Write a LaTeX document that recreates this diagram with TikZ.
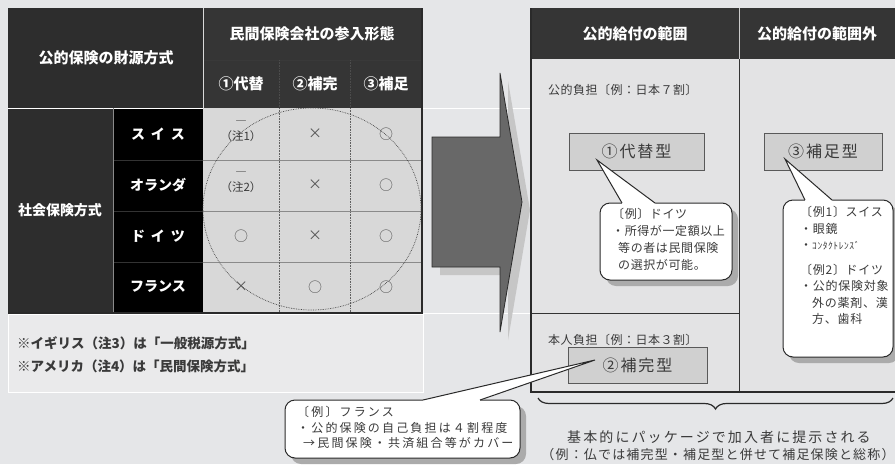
\documentclass[tikz,border=0pt]{standalone}
\usepackage{fontspec}
\newfontfamily\jp{Noto Sans CJK JP}
\usetikzlibrary{decorations.pathreplacing}
\definecolor{bg}{HTML}{E5E6E8}
\definecolor{dark}{HTML}{353535}
\definecolor{darker}{HTML}{2D2D2D}
\definecolor{cname}{HTML}{3B3B3B}
\definecolor{cell}{HTML}{D8D8D8}
\definecolor{gridc}{HTML}{8A8A8A}
\definecolor{boxfill}{HTML}{D0D0D0}
\definecolor{txt}{HTML}{3A3A3A}
\definecolor{markc}{HTML}{555555}
\definecolor{shadowc}{HTML}{ABABAB}
\definecolor{arrowfill}{HTML}{686868}
\definecolor{notefill}{HTML}{EAEAEB}
\definecolor{panel}{HTML}{E3E3E4}
\definecolor{border}{HTML}{2A2A2A}
\newcommand{\fs}[1]{\fontsize{#1}{#1}\selectfont}
\newcommand{\ls}[1]{\addfontfeature{LetterSpace=#1}}
\begin{document}
\begin{tikzpicture}[x=1pt,y=-1pt,
  hdr/.style={text=white, font=\jp\bfseries\fs{15}, inner sep=0pt},
  cname/.style={text=white, font=\jp\bfseries\fs{14}, inner sep=0pt},
  cmark/.style={text=markc, font=\jp\fs{14}, inner sep=0pt},
  cnote/.style={text=txt, font=\jp\fs{11.5}, inner sep=0pt, align=center},
  notetext/.style={text=txt, font=\jp\bfseries\fs{13.5}, inner sep=0pt, anchor=west},
  typebox/.style={draw=gray!70!black, fill=boxfill, line width=0.6pt, text=txt, font=\jp\fs{16}\ls{12}},
  lbl/.style={text=txt, font=\jp\fs{12}\ls{4}, inner sep=0pt, anchor=west},
  calltext/.style={text=txt, inner sep=0pt, align=left, anchor=north west},
  cbox/.style={fill=white, draw=border, line width=1pt, rounded corners=10pt},
  cshadow/.style={fill=shadowc, rounded corners=10pt},
  bracetext/.style={text=txt, inner sep=0pt},
]
\fill[bg] (0,0) rectangle (895,464);
\useasboundingbox (0,0) rectangle (895,464);

% ---------- left table ----------
\fill[darker] (8,8) rectangle (203,108);
\fill[dark] (203,8) rectangle (422,108);
\fill[darker] (8,108) rectangle (113,313);
\fill[cname] (113,108) rectangle (203,313);
\fill[cell] (203,108) rectangle (422,313);
\draw[gray!45!black, line width=0.6pt] (203,60) -- (422,60);
\draw[gray!60!black, densely dotted, line width=0.6pt] (279,60) -- (279,108) (350,60) -- (350,108);
\foreach \yy in {160,211,262}{
  \draw[gridc, line width=0.8pt] (203,\yy) -- (422,\yy);
  \draw[gray!40!black, line width=0.6pt] (113,\yy) -- (203,\yy);
}
\draw[gray!75!black, densely dotted, line width=0.6pt] (279,108) -- (279,313) (350,108) -- (350,313);
\draw[gray!30, line width=0.7pt] (203,8) -- (203,108);
\draw[white, line width=0.8pt] (8,108) -- (203,108);
\draw[white, line width=0.6pt] (422,108) -- (531,108);
\draw[white, line width=0.6pt] (423,313) -- (531,313);
\draw[gridc, line width=0.6pt] (113,108) -- (113,313);
\draw[border, line width=1.2pt] (422,8) -- (422,313) -- (8,313);
\draw[gray!55!black, densely dotted, line width=0.7pt] (312,209) ellipse [x radius=109, y radius=101];

\node[hdr] (h1) at (106,58) {公的保険の財源方式};
\node[hdr] (h2) at (312,34) {民間保険会社の参入形態};
\node[hdr] (c1) at (241,84) {①代替};
\node[hdr] (c2) at (315,84) {②補完};
\node[hdr] (c3) at (386,84) {③補足};
\node[cname] (sys) at (60,210) {社会保険方式};
\node[cname] (ch) at (158,134) {ス\hspace{6pt}イ\hspace{6pt}ス};
\node[cname] (nl) at (158,185) {オランダ};
\node[cname] (de) at (158,236) {ド\hspace{6pt}イ\hspace{6pt}ツ};
\node[cname] (fr) at (158,287) {フランス};

\node[cnote] (ch1) at (241,131) {―\\[4pt]（注1）};
\node[cmark] (ch2) at (315,134) {×};
\node[cmark] (ch3) at (386,134) {○};
\node[cnote] (nl1) at (241,182) {―\\[4pt]（注2）};
\node[cmark] (nl2) at (315,185) {×};
\node[cmark] (nl3) at (386,185) {○};
\node[cmark] (de1) at (241,236) {○};
\node[cmark] (de2) at (315,236) {×};
\node[cmark] (de3) at (386,236) {○};
\node[cmark] (fr1) at (241,287) {×};
\node[cmark] (fr2) at (315,287) {○};
\node[cmark] (fr3) at (386,287) {○};

\draw[white, fill=notefill, line width=0.6pt] (8,314) rectangle (423,392);
\node[notetext] (n1) at (17,343) {※イギリス（注3）は「一般税源方式」};
\node[notetext] (n2) at (17,366) {※アメリカ（注4）は「民間保険方式」};

% ---------- arrow ----------
\fill[gray!45] (440,145) -- (508,145) -- (508,81) -- (530,210) -- (508,340) -- (508,275) -- (440,275) -- cycle;
\draw[fill=arrowfill, draw=border, line width=0.8pt] (432,137) -- (500,137) -- (500,73) -- (522,202) -- (500,332) -- (500,267) -- (432,267) -- cycle;

% ---------- right panel ----------
\fill[panel] (531,59) rectangle (895,392);
\fill[dark] (531,8) rectangle (895,59);
\draw[gray!40, line width=0.6pt] (739,8) -- (739,59);
\draw[gray!40!black, line width=0.6pt] (739,59) -- (739,392) (531,313) -- (739,313);
\draw[border, line width=1.5pt] (531,8) -- (531,392) -- (895,392);
\node[hdr] (r1) at (635,34) {公的給付の範囲};
\node[hdr] (r2) at (817,34) {公的給付の範囲外};

\node[lbl] (pub) at (548,90) {公的負担〔例：日本７割〕};
\node[lbl] (own) at (548,340) {本人負担〔例：日本３割〕};
\node[typebox, minimum width=135pt, minimum height=37pt] (t1) at (636.5,151.5) {①代替型};
\node[typebox, minimum width=118pt, minimum height=37pt] (t3) at (823,151.5) {③補足型};
\node[typebox, minimum width=139pt, minimum height=36pt] (t2) at (637.5,365) {②補完型};

% ---------- callout Germany ----------
\fill[cshadow] (606,209) rectangle (738,286);
\fill[shadowc] (603,166) -- (628,209) -- (661,209) -- cycle;
\draw[cbox] (600,203) rectangle (732,280);
\coordinate (g0) at (597,160);
\fill[white] (g0) -- (622,203) -- (622,205) -- (655,205) -- (655,203) -- cycle;
\draw[border, line width=1pt] (622,203) -- (g0) -- (655,203);
\node[calltext, font=\jp\fontsize{12}{17}\selectfont\ls{5}] (gt) at (612,208) {〔例〕ドイツ\\・所得が一定額以上\\\hspace{6pt}等の者は民間保険\\\hspace{6pt}の選択が可能。};

% ---------- callout Switzerland ----------
\fill[cshadow] (789,206) rectangle (899,363);
\fill[shadowc] (791,165) -- (811,206) -- (838,206) -- cycle;
\draw[cbox] (783,200) rectangle (893,357);
\coordinate (s0) at (785,159);
\fill[white] (s0) -- (805,200) -- (805,202) -- (832,202) -- (832,200) -- cycle;
\draw[border, line width=1pt] (805,200) -- (s0) -- (832,200);
\node[calltext, font=\jp\fontsize{12}{16.5}\selectfont\ls{6}] (st) at (800,206) {〔例1〕スイス\\・眼鏡\\・{\fs{9.5}ｺﾝﾀｸﾄﾚﾝｽﾞ}\\[8pt]〔例2〕ドイツ\\・公的保険対象\\\hspace{12pt}外の薬剤、漢\\\hspace{12pt}方、歯科};

% ---------- callout France ----------
\fill[cshadow] (291,406) rectangle (526,464);
\draw[cbox] (285,400) rectangle (520,458);
\coordinate (f0) at (595,360);
\fill[white] (f0) -- (423,400) -- (423,402) -- (480,402) -- (480,400) -- cycle;
\draw[border, line width=1pt] (423,400) -- (f0) -- (480,400);
\node[calltext, font=\jp\fontsize{12}{15.5}\selectfont\ls{18}] (ft) at (297,406) {〔例〕フランス\\・公的保険の自己負担は４割程度\\\hspace{6pt}→民間保険・共済組合等がカバー};

% ---------- brace ----------
\coordinate (b1) at (538,398);
\coordinate (b2) at (893,398);
\draw[border, line width=1.2pt, decorate, decoration={brace, mirror, amplitude=11pt}] (b1) -- (b2);
\node[bracetext, font=\jp\fs{14}\ls{15}] (bt1) at (719,437) {基本的にパッケージで加入者に提示される};
\node[bracetext, font=\jp\fs{13}\ls{9}] (bt2) at (718,455) {（例：仏では補完型・補足型と併せて補足保険と総称）};
\end{tikzpicture}
\end{document}
